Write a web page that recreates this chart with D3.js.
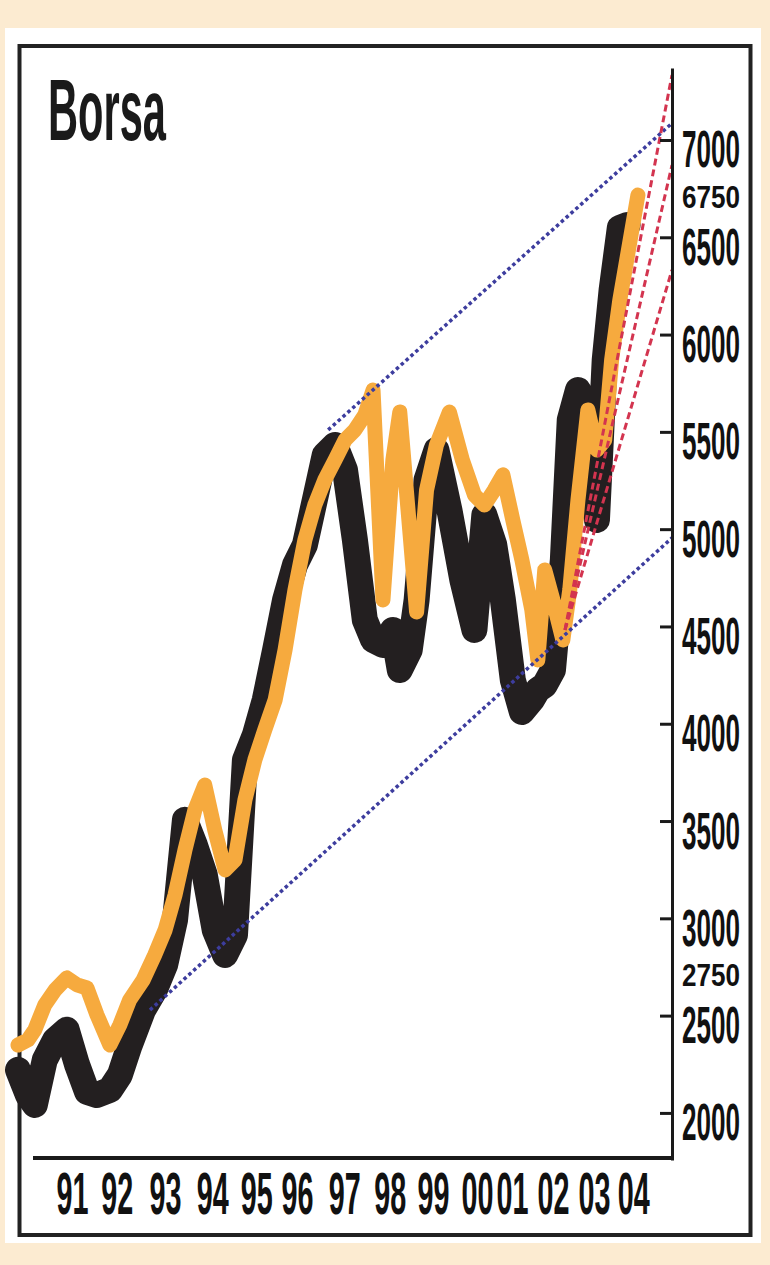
<!DOCTYPE html>
<html><head><meta charset="utf-8">
<script src="https://cdn.jsdelivr.net/npm/d3@7"></script>
<style>html,body{margin:0;padding:0;background:#fcebd1;} svg{display:block}</style>
</head><body>
<svg id="c" width="770" height="1265"></svg>
<script>
// ---- data ----
const title = "Borsa";
const dates = [1990.25,1990.48,1990.64,1990.87,1991.11,1991.38,1991.62,1991.85,1992.08,1992.38,
  1992.61,1992.84,1993.15,1993.42,1993.66,1993.89,1994.12,1994.35,1994.58,1994.81,
  1995.05,1995.28,1995.51,1995.74,1995.97,1996.21,1996.44,1996.67,1996.90,1997.13,
  1997.36,1997.60,1997.83,1998.06,1998.29,1998.48,1998.71,1998.94,1999.10,1999.33,
  1999.49,1999.72,1999.95,2000.25,2000.55,2000.83,2001.06,2001.29,2001.49,2001.72,
  2001.93,2002.16,2002.30,2002.46,2002.65,2002.88,2003.04,2003.23,2003.46,2003.67,
  2003.85,2004.01,2004.20,2004.38,2004.62];
const orangeSeries = [2349,2375,2427,2555,2632,2694,2658,2642,2504,2349,
  2452,2581,2683,2812,2940,3120,3351,3557,3685,3454,
  3249,3300,3608,3814,3968,4122,4379,4688,4944,5124,
  5253,5356,5458,5510,5587,5715,4636,5356,5602,4996,
  4574,5201,5433,5602,5356,5176,5124,5201,5279,5047,
  4842,4585,4328,4790,4636,4431,4688,5150,5613,5407,
  5458,5869,6178,6409,6717];
const blackSeries = [2221,2092,2041,2272,2375,2427,2247,2108,2092,2118,
  2195,2349,2529,2632,2761,2992,3506,3377,3223,2940,
  2812,2915,3814,3942,4122,4379,4636,4816,4919,5150,
  5381,5433,5304,4944,4533,4431,4405,4482,4276,4379,
  4636,5253,5407,5099,4739,4482,5073,4919,4636,4225,
  4061,4122,4174,4199,4276,4842,5561,5715,5304,5047,
  5869,6229,6548,6563,null];
const yTicks = [2000,2500,3000,3500,4000,4500,5000,5500,6000,6500,7000];
const extraLabels = [6750, 2750];
const xTickDates = [1991.50,1992.54,1993.66,1994.75,1995.77,1996.72,1997.81,1998.87,1999.87,2000.89,2001.70,2002.65,2003.60,2004.51];
const xTickLabels = ["91","92","93","94","95","96","97","98","99","00","01","02","03","04"];
const upperChannel = [[1997.44,5510],[2005.41,7086]];
const lowerChannel = [[1993.31,2529],[2005.41,4955]];
const fanOrigin = [2002.93,4482];
const fanEndDate = 2005.41;
const fanEnds = [7334,6871,6332];

// ---- drawing ----
const svg = d3.select("#c");
const x = d3.scaleLinear().domain([1990.25, 2005.41]).range([18, 672]);
const y = d3.scaleLinear().domain([1758, 7370]).range([1160, 68]);

svg.append("rect").attr("x",0).attr("y",0).attr("width",770).attr("height",1265).attr("fill","#fcebd1");
svg.append("rect").attr("x",5).attr("y",28).attr("width",756).attr("height",1215).attr("fill","#ffffff");
svg.append("rect").attr("x",19.5).attr("y",46).attr("width",731).attr("height",1189)
  .attr("fill","none").attr("stroke","#222").attr("stroke-width",4);

const fontFam = "'Liberation Sans Narrow','Liberation Sans',Arial,sans-serif";

// squeeze a text horizontally to a target width using a transform
function fit(sel, target, tx, ty) {
  sel.each(function(){
    const w = this.getComputedTextLength() || target;
    const s = target / w;
    d3.select(this).attr("x",0).attr("y",0).attr("dy",0)
      .attr("transform", `translate(${typeof tx==="function"?tx(this):tx},${typeof ty==="function"?ty(this):ty}) scale(${s},1)`);
  });
}

const tt = svg.append("text").text(title)
  .attr("font-family",fontFam).attr("font-weight","bold").attr("font-size",88).attr("fill","#1a1a1a");
fit(tt, 118, 48, 140);

const pts = dates.map((d,i)=>({d, o:orangeSeries[i], b:blackSeries[i]}));
const lineB = d3.line().defined(p=>p.b!=null).x(p=>x(p.d)).y(p=>y(p.b));
const lineO = d3.line().defined(p=>p.o!=null).x(p=>x(p.d)).y(p=>y(p.o));

svg.append("path").datum(pts).attr("d",lineB).attr("fill","none")
  .attr("stroke","#231f20").attr("stroke-width",26).attr("stroke-linejoin","round").attr("stroke-linecap","round");
svg.append("path").datum(pts).attr("d",lineO).attr("fill","none")
  .attr("stroke","#f6aa3e").attr("stroke-width",15).attr("stroke-linejoin","round").attr("stroke-linecap","round");

const seg = d3.line().x(p=>x(p[0])).y(p=>y(p[1]));
[upperChannel, lowerChannel].forEach(c=>{
  svg.append("path").datum(c).attr("d",seg).attr("fill","none")
    .attr("stroke","#3d3d9e").attr("stroke-width",3.5).attr("stroke-dasharray","3.5,3");
});
fanEnds.forEach(v=>{
  svg.append("path").datum([fanOrigin,[fanEndDate,v]]).attr("d",seg).attr("fill","none")
    .attr("stroke","#d3344f").attr("stroke-width",3).attr("stroke-dasharray","7,4");
});

// y axis
const yAxis = d3.axisRight(y).tickValues(yTicks).tickSizeInner(-12).tickSizeOuter(0).tickPadding(8).tickFormat(d3.format("d"));
const gy = svg.append("g").attr("transform","translate(672,0)").call(yAxis);
gy.select(".domain").attr("stroke","#1a1a1a").attr("stroke-width",3);
gy.selectAll(".tick line").attr("stroke","#1a1a1a").attr("stroke-width",3);
const yTexts = gy.selectAll(".tick text").attr("text-anchor","start")
  .attr("font-family",fontFam).attr("font-weight","bold").attr("font-size",52).attr("fill","#111");
fit(yTexts, 58, 10, 27);
// secondary value labels between ticks (smaller so they sit in the gap)
const extra = svg.append("g").selectAll("text").data(extraLabels).join("text").text(v=>v)
  .attr("font-family",fontFam).attr("font-weight","bold").attr("font-size",31).attr("fill","#111");
fit(extra, 58, 682, function(el){ return y(d3.select(el).datum())+19; });

// x axis
const xAxis = d3.axisBottom(x).tickValues(xTickDates).tickSize(0).tickPadding(0).tickFormat((d,i)=>xTickLabels[i]);
const gx = svg.append("g").attr("transform","translate(0,1158)").call(xAxis);
gx.select(".domain").remove();
gx.append("line").attr("x1",33).attr("x2",673).attr("y1",0).attr("y2",0).attr("stroke","#1a1a1a").attr("stroke-width",4);
const xTexts = gx.selectAll(".tick text").attr("text-anchor","middle")
  .attr("font-family",fontFam).attr("font-weight","bold").attr("font-size",60).attr("fill","#111");
fit(xTexts, 32, 0, 56);
</script>
</body></html>
